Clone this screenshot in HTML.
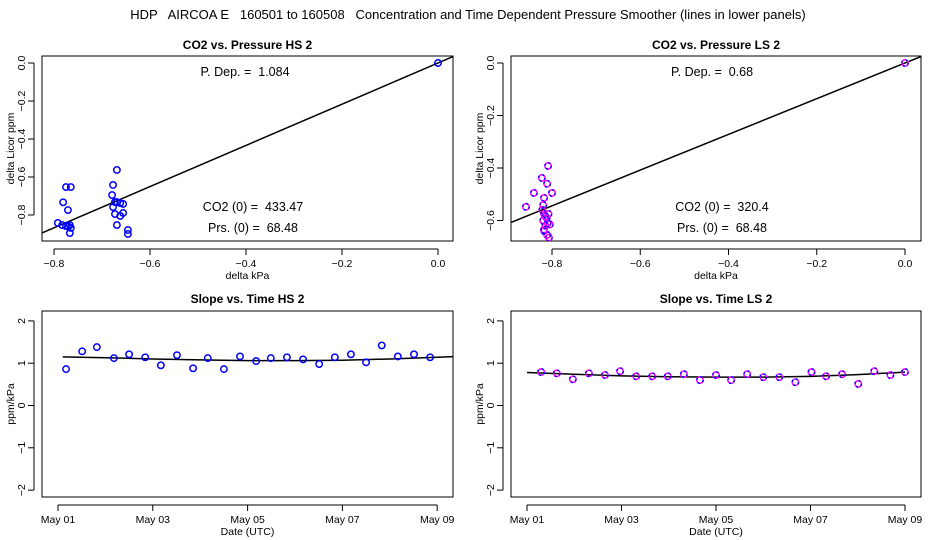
<!DOCTYPE html>
<html><head><meta charset="utf-8"><style>
html,body{margin:0;padding:0;background:#fff}
svg{display:block;font-family:"Liberation Sans",sans-serif}
svg text{white-space:pre}
</style></head><body>
<svg id="c" width="936" height="540" xmlns="http://www.w3.org/2000/svg"></svg>
<script>
// ---- data ----
const hsX=[-0.792,-0.783,-0.775,-0.771,-0.767,-0.781,-0.775,-0.765,-0.771,-0.765,-0.767,-0.669,-0.677,-0.679,-0.673,-0.669,-0.662,-0.656,-0.677,-0.673,-0.662,-0.656,-0.669,-0.646,-0.646,0];
const hsY=[-0.842,-0.853,-0.858,-0.858,-0.853,-0.733,-0.653,-0.653,-0.774,-0.868,-0.895,-0.563,-0.642,-0.695,-0.732,-0.732,-0.737,-0.742,-0.758,-0.795,-0.805,-0.789,-0.853,-0.879,-0.9,0];
const hsSlope=1.084;
const lsX=[-0.809,-0.823,-0.811,-0.841,-0.8,-0.818,-0.859,-0.82,-0.822,-0.818,-0.815,-0.812,-0.82,-0.81,-0.805,-0.815,-0.808,-0.818,-0.818,-0.811,-0.807,0];
const lsY=[-0.392,-0.438,-0.46,-0.495,-0.495,-0.514,-0.548,-0.541,-0.56,-0.575,-0.585,-0.59,-0.6,-0.61,-0.615,-0.62,-0.575,-0.635,-0.64,-0.655,-0.665,0];
const lsSlope=0.68;
const hsDays=[0.17,0.51,0.82,1.18,1.50,1.84,2.17,2.51,2.85,3.16,3.50,3.84,4.18,4.49,4.83,5.17,5.51,5.84,6.18,6.50,6.83,7.17,7.51,7.85];
const hsVals=[0.86,1.28,1.38,1.12,1.21,1.14,0.95,1.19,0.88,1.12,0.86,1.16,1.05,1.12,1.14,1.09,0.98,1.14,1.21,1.02,1.42,1.16,1.21,1.14];
const hsSmoothDays=[0.1,1,2,3,4,5,6,7,8,8.9];
const hsSmooth=[1.15,1.13,1.10,1.08,1.06,1.06,1.07,1.10,1.14,1.18];
const lsDays=[0.30,0.63,0.97,1.31,1.65,1.97,2.31,2.65,2.98,3.32,3.66,4.0,4.32,4.66,5.0,5.34,5.68,6.02,6.33,6.67,7.01,7.35,7.69,8.0];
const lsVals=[0.79,0.76,0.62,0.76,0.72,0.81,0.69,0.69,0.69,0.74,0.60,0.72,0.60,0.74,0.67,0.67,0.55,0.79,0.69,0.74,0.51,0.81,0.72,0.79];
const lsSmoothDays=[0,1,2,3,4,5,6,7,8];
const lsSmooth=[0.78,0.74,0.70,0.68,0.67,0.67,0.69,0.73,0.79];
const xTicksTop=[-0.8,-0.6,-0.4,-0.2,0.0];
const yTicksHS=[0.0,-0.2,-0.4,-0.6,-0.8];
const yTicksLS=[0.0,-0.2,-0.4,-0.6];
const yTicksSlope=[2,1,0,-1,-2];
const dateTicks=["May 01","May 03","May 05","May 07","May 09"];
const dateTickDays=[0,2,4,6,8];

const svg=document.getElementById('c');
const NS='http://www.w3.org/2000/svg';
function el(tag,attrs,parent){const e=document.createElementNS(NS,tag);for(const k in attrs)e.setAttribute(k,attrs[k]);(parent||svg).appendChild(e);return e;}
function txt(s,x,y,attrs,parent){const t=el('text',Object.assign({x:x,y:y,'font-size':10.5,'text-anchor':'middle'},attrs||{}),parent);t.textContent=s;return t;}

const title=txt('HDP   AIRCOA E   160501 to 160508   Concentration and Time Dependent Pressure Smoother (lines in lower panels)',468,19,{'font-size':13});



function panel(o){
  const g=el('g',{});
  
  
  const sx=v=>o.px0+(v-o.x0)*o.kx, sy=v=>o.py0-(v-o.y0)*o.ky;
  el('rect',{x:o.L,y:o.T,width:o.R-o.L,height:o.B-o.T,fill:'none',stroke:'#000'},g);
  const t=txt(o.title,(o.L+o.R)/2,o.ty,{'font-size':12,'font-weight':'bold'},g);
  
  const xa=el('g',{},g);
  
  
  const xs=o.xt.map(sx);
  el('line',{x1:xs[0],x2:xs[xs.length-1],y1:o.B+8,y2:o.B+8,stroke:'#000'},xa);
  o.xt.forEach((v,i)=>{el('line',{x1:xs[i],x2:xs[i],y1:o.B+8,y2:o.B+14,stroke:'#000'},xa);
    txt(o.xl[i],xs[i],o.B+26,{},xa);});
  const xt=txt(o.xTitle,(o.L+o.R)/2,o.B+38,{},g);
  
  const ya=el('g',{},g);
  
  
  const ys=o.yt.map(sy);
  el('line',{x1:o.L-8,x2:o.L-8,y1:ys[0],y2:ys[ys.length-1],stroke:'#000'},ya);
  o.yt.forEach((v,i)=>{el('line',{x1:o.L-8,x2:o.L-14,y1:ys[i],y2:ys[i],stroke:'#000'},ya);
    txt(o.yl[i],o.L-17,ys[i],{transform:`rotate(-90 ${o.L-17} ${ys[i]})`},ya);});
  const yt=txt(o.yTitle,o.L-28,(o.T+o.B)/2,{transform:`rotate(-90 ${o.L-28} ${(o.T+o.B)/2})`},g);
  
  const clip='cl'+o.name;
  const cp=el('clipPath',{id:clip},g);el('rect',{x:o.L,y:o.T,width:o.R-o.L,height:o.B-o.T},cp);
  const pg=el('g',{'clip-path':`url(#${clip})`},g);
  
  return {g,pg,sx,sy};
}
function pts(p,X,Y,mag){
  X.forEach((x,i)=>{
    const c=el('circle',{cx:p.sx(x),cy:p.sy(Y[i]),r:3.2,fill:'none',stroke:mag?'#f0f':'#00f','stroke-width':1.5},p.pg);
    
    
    if(mag){el('circle',{cx:p.sx(x),cy:p.sy(Y[i]),r:3.2,fill:'none',stroke:'#00f','stroke-width':1.5,'stroke-dasharray':'2 3'},p.pg);}
  });
}
function fitLine(p,slope){
  const l=el('line',{x1:p.sx(-1),y1:p.sy(-slope),x2:p.sx(0.1),y2:p.sy(slope*0.1),stroke:'#000','stroke-width':1.5},p.pg);
  
}
function smooth(p,D,V){
  const l=el('polyline',{points:D.map((d,i)=>p.sx(d)+','+p.sy(V[i])).join(' '),fill:'none',stroke:'#000','stroke-width':1.5},p.pg);
  
}
const fmt=v=>v===0?'0.0':v.toFixed(1).replace('-','\u2212');
const A={'font-size':12.5};

const p1=panel({name:'co2-vs-pressure-hs',L:42,R:453,T:56,B:241,ty:49,x0:-0.8,px0:54,kx:480,y0:0,py0:63,ky:190,
  xt:xTicksTop,xl:xTicksTop.map(fmt),yt:yTicksHS,yl:yTicksHS.map(fmt),title:'CO2 vs. Pressure HS 2',xTitle:'delta kPa',yTitle:'delta Licor ppm'});
fitLine(p1,hsSlope);pts(p1,hsX,hsY,false);
txt('P. Dep. =  1.084',245,76,A,p1.g);
txt('CO2 (0) =  433.47',253,211,A,p1.g);
txt('Prs. (0) =  68.48',253,232,A,p1.g);
const p2=panel({name:'co2-vs-pressure-ls',L:511,R:921,T:56,B:241,ty:49,x0:-0.8,px0:552,kx:441.25,y0:0,py0:63,ky:262.5,
  xt:xTicksTop,xl:xTicksTop.map(fmt),yt:yTicksLS,yl:yTicksLS.map(fmt),title:'CO2 vs. Pressure LS 2',xTitle:'delta kPa',yTitle:'delta Licor ppm'});
fitLine(p2,lsSlope);pts(p2,lsX,lsY,true);
txt('P. Dep. =  0.68',712,76,A,p2.g);
txt('CO2 (0) =  320.4',722,211,A,p2.g);
txt('Prs. (0) =  68.48',722,232,A,p2.g);
const sl=v=>v<0?'\u2212'+(-v):String(v);
const p3=panel({name:'slope-vs-time-hs',L:42,R:453,T:311,B:497,ty:303,x0:0,px0:58,kx:47.4,y0:0,py0:405.5,ky:42.3,
  xt:dateTickDays,xl:dateTicks,yt:yTicksSlope,yl:yTicksSlope.map(sl),title:'Slope vs. Time HS 2',xTitle:'Date (UTC)',yTitle:'ppm/kPa'});
smooth(p3,hsSmoothDays,hsSmooth);pts(p3,hsDays,hsVals,false);
const p4=panel({name:'slope-vs-time-ls',L:511,R:921,T:311,B:497,ty:303,x0:0,px0:527,kx:47.25,y0:0,py0:405.5,ky:42.3,
  xt:dateTickDays,xl:dateTicks,yt:yTicksSlope,yl:yTicksSlope.map(sl),title:'Slope vs. Time LS 2',xTitle:'Date (UTC)',yTitle:'ppm/kPa'});
smooth(p4,lsSmoothDays,lsSmooth);pts(p4,lsDays,lsVals,true);
</script>
</body></html>
